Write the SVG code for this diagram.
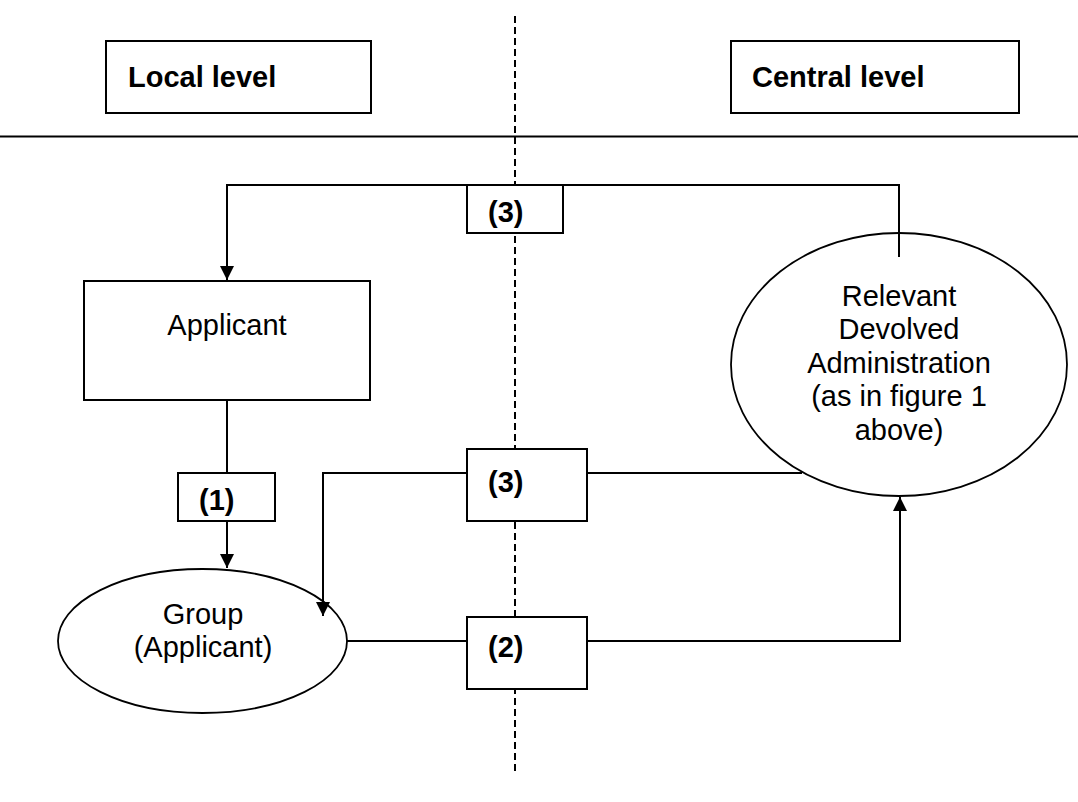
<svg xmlns="http://www.w3.org/2000/svg" width="1078" height="802" viewBox="0 0 1078 802">
<style>
.box{fill:#fff;stroke:#000;stroke-width:2}
.ell{fill:#fff;stroke:#000;stroke-width:1.8}
.ln{fill:none;stroke:#000;stroke-width:2}
.t{font-family:"Liberation Sans",Arial,sans-serif;font-size:29px;fill:#000}
.b{font-weight:bold}
.c{text-anchor:middle}
</style>
<defs>
<marker id="ah" markerUnits="userSpaceOnUse" markerWidth="14" markerHeight="14" refX="14" refY="7" orient="auto">
<path d="M0,0 L14,7 L0,14 Z" fill="#000"/>
</marker>
</defs>
<rect width="1078" height="802" fill="#fff"/>
<g id="dividers">
<line x1="515" y1="16" x2="515" y2="775" stroke="#000" stroke-width="2" stroke-dasharray="7,4"/>
<line x1="0" y1="136.5" x2="1078" y2="136.5" stroke="#000" stroke-width="2"/>
</g>
<g id="group">
<ellipse class="ell" cx="202.5" cy="641" rx="144.5" ry="72"/>
<text class="t c" x="203" y="624">Group</text>
<text class="t c" x="203" y="657">(Applicant)</text>
</g>
<g id="rda">
<ellipse class="ell" cx="899" cy="364.5" rx="168" ry="131.5"/>
<text class="t c" x="899" y="306">Relevant</text>
<text class="t c" x="899" y="339">Devolved</text>
<text class="t c" x="899" y="373">Administration</text>
<text class="t c" x="899" y="406">(as in figure 1</text>
<text class="t c" x="899" y="440">above)</text>
</g>
<g id="connectors">
<path class="ln" d="M899,257 V185 H227 V280" marker-end="url(#ah)"/>
<path class="ln" d="M227,400 V568" marker-end="url(#ah)"/>
<path class="ln" d="M802,473 H323 V616" marker-end="url(#ah)"/>
<path class="ln" d="M347,641 H900 V497" marker-end="url(#ah)"/>
</g>
<g id="local-level">
<rect class="box" x="106" y="41" width="265" height="72"/>
<text class="t b" x="128" y="87">Local level</text>
</g>
<g id="central-level">
<rect class="box" x="731" y="41" width="288" height="72"/>
<text class="t b" x="752" y="87">Central level</text>
</g>
<g id="label3-top">
<rect class="box" x="467" y="185" width="96" height="48"/>
<text class="t b" x="488" y="222">(3)</text>
</g>
<g id="applicant">
<rect class="box" x="84" y="281" width="286" height="119"/>
<text class="t c" x="227" y="335">Applicant</text>
</g>
<g id="label1">
<rect class="box" x="178" y="473" width="97" height="48"/>
<text class="t b" x="199" y="510">(1)</text>
</g>
<g id="label3-mid">
<rect class="box" x="467" y="449" width="120" height="72"/>
<text class="t b" x="488" y="492">(3)</text>
</g>
<g id="label2">
<rect class="box" x="467" y="617" width="120" height="72"/>
<text class="t b" x="488" y="657">(2)</text>
</g>
</svg>
